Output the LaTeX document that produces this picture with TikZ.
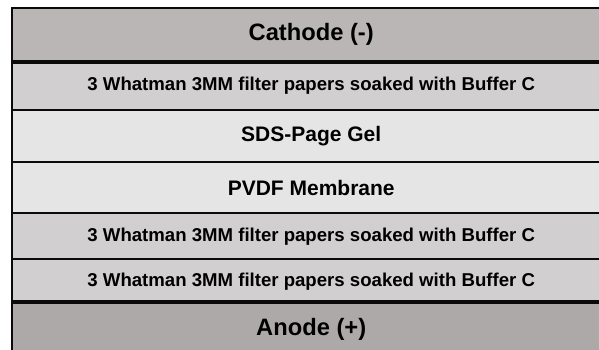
\documentclass[tikz,border=0pt]{standalone}
\usepackage{fontspec}
\setmainfont{Liberation Sans}
\definecolor{cathc}{HTML}{BAB6B5}
\definecolor{whatc}{HTML}{D1CFD0}
\definecolor{gelc}{HTML}{E5E5E5}
\definecolor{anoc}{HTML}{ADA9A8}
\definecolor{edgec}{HTML}{0A0A0A}
\tikzset{
  layer/.style={rectangle, draw=edgec, line width=2.4bp, anchor=north west,
    minimum width=598bp, inner sep=0pt, font=\bfseries},
  bigtxt/.style={font=\fontsize{23.7bp}{26bp}\selectfont\bfseries},
  midtxt/.style={font=\fontsize{21bp}{24bp}\selectfont\bfseries},
  smalltxt/.style={font=\fontsize{18.6bp}{22bp}\selectfont\bfseries},
  sep/.style={draw=edgec, line width=4bp}
}
\begin{document}
\begin{tikzpicture}[x=1bp,y=-1bp]
\useasboundingbox (0,0) rectangle (599,349);
\clip (0,0) rectangle (599,349);
\node[layer, fill=anoc, minimum height=53bp, bigtxt] (anode) at (11,302) {Anode (+)};
\node[layer, fill=whatc, minimum height=44bp, smalltxt] (what3) at (11,258) {3 Whatman 3MM filter papers soaked with Buffer C};
\node[layer, fill=whatc, minimum height=46bp, smalltxt] (what2) at (11,212) {3 Whatman 3MM filter papers soaked with Buffer C};
\node[layer, fill=gelc, minimum height=51bp, midtxt] (pvdf) at (11,161) {PVDF Membrane};
\node[layer, fill=gelc, minimum height=52bp, midtxt] (gel) at (11,109) {SDS-Page Gel};
\node[layer, fill=whatc, minimum height=49bp, smalltxt] (what1) at (11,60) {3 Whatman 3MM filter papers soaked with Buffer C};
\node[layer, fill=cathc, minimum height=53bp, bigtxt] (cathode) at (11,7) {Cathode (-)};
\draw[sep] (cathode.south west) -- (cathode.south east);
\draw[sep] (anode.north west) -- (anode.north east);
\end{tikzpicture}
\end{document}
